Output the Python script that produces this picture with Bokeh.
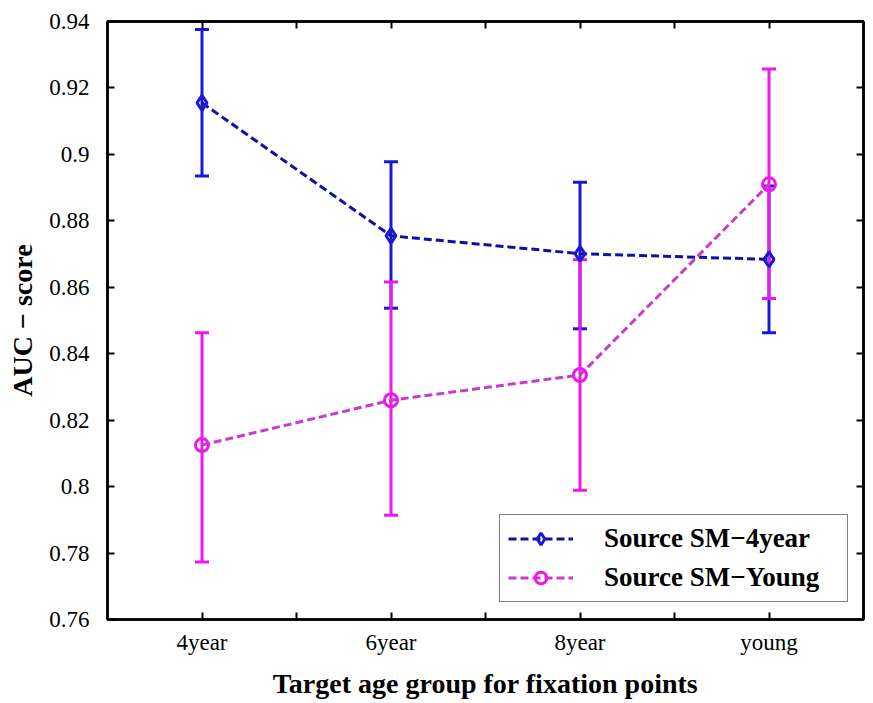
from bokeh.plotting import figure
from bokeh.models import (ColumnDataSource, Whisker, TeeHead, FixedTicker,
                          LinearAxis, Range1d)
from bokeh.embed import file_html
from bokeh.resources import INLINE

# ---------------- data ----------------
categories = ["4year", "6year", "8year", "young"]
x_pos = [1, 2, 3, 4]

sm4_mean = [0.9155, 0.8755, 0.8701, 0.8684]
sm4_lower = [0.8935, 0.8537, 0.8475, 0.8463]
sm4_upper = [0.9376, 0.8978, 0.8916, 0.8905]

young_mean = [0.8125, 0.8260, 0.8336, 0.8910]
young_lower = [0.7773, 0.7914, 0.7989, 0.8566]
young_upper = [0.8463, 0.8616, 0.8683, 0.9257]

y_ticks = [0.76, 0.78, 0.80, 0.82, 0.84, 0.86, 0.88, 0.90, 0.92, 0.94]
y_tick_labels = ["0.76", "0.78", "0.8", "0.82", "0.84", "0.86", "0.88", "0.9", "0.92", "0.94"]
x_ticks = [1, 1.5, 2, 2.5, 3, 3.5, 4]

series_names = ["Source SM\u22124year", "Source SM\u2212Young"]

# ---------------- style ----------------
BLUE_BAR = "#1a1ad6"
BLUE_LINE = "#12129e"
MAG_BAR = "#ee18ee"
MAG_LINE = "#cc3acc"
FONT = "Liberation Serif"

p = figure(width=873, height=703,
           x_range=Range1d(0.5, 4.5), y_range=Range1d(0.76, 0.94),
           output_backend="svg", toolbar_location=None,
           min_border_left=107, min_border_right=10,
           min_border_top=21, min_border_bottom=84)

p.add_layout(LinearAxis(), "above")
p.add_layout(LinearAxis(), "right")

p.xgrid.visible = False
p.ygrid.visible = False
p.background_fill_color = "white"
p.border_fill_color = "white"
p.outline_line_color = "black"
p.outline_line_width = 2.5

x_overrides = {}
for t in x_ticks:
    x_overrides[t] = ""
for xv, c in zip(x_pos, categories):
    x_overrides[xv] = c
y_overrides = {t: l for t, l in zip(y_ticks, y_tick_labels)}

for ax in p.xaxis:
    ax.ticker = FixedTicker(ticks=x_ticks)
for ax in p.yaxis:
    ax.ticker = FixedTicker(ticks=y_ticks)

for ax in list(p.xaxis) + list(p.yaxis):
    ax.axis_line_color = "black"
    ax.axis_line_width = 2.5
    ax.major_tick_in = 7
    ax.major_tick_out = 0
    ax.major_tick_line_width = 2
    ax.major_tick_line_color = "black"
    ax.minor_tick_line_color = None
    ax.major_label_text_font = FONT
    ax.major_label_text_font_size = "23px"
    ax.major_label_text_color = "black"

# top / right axes: ticks only, empty labels
p.above[0].major_label_overrides = {t: "" for t in x_ticks}
p.right[0].major_label_overrides = {t: "" for t in y_ticks}
p.above[0].major_label_standoff = 0
p.right[0].major_label_standoff = 0

xa = p.below[0]
xa.major_label_overrides = x_overrides
xa.axis_label = "Target age group for fixation points"
xa.major_label_standoff = 10
xa.axis_label_standoff = 10

ya = p.left[0]
ya.major_label_overrides = y_overrides
ya.axis_label = "AUC \u2212 score"
ya.major_label_standoff = 18
ya.axis_label_standoff = 8

for ax in (xa, ya):
    ax.axis_label_text_font = FONT
    ax.axis_label_text_font_style = "bold"
    ax.axis_label_text_font_size = "28px"
    ax.axis_label_text_color = "black"

# ---------------- error bars ----------------
src_a = ColumnDataSource(dict(x=x_pos, mean=sm4_mean, lower=sm4_lower, upper=sm4_upper))
src_b = ColumnDataSource(dict(x=x_pos, mean=young_mean, lower=young_lower, upper=young_upper))

for src, col in ((src_a, BLUE_BAR), (src_b, MAG_BAR)):
    w = Whisker(source=src, base="x", upper="upper", lower="lower",
                line_color=col, line_width=3, level="underlay",
                upper_head=TeeHead(size=14, line_color=col, line_width=3),
                lower_head=TeeHead(size=14, line_color=col, line_width=3))
    p.add_layout(w)

# ---------------- lines and markers ----------------
p.line("x", "mean", source=src_a, line_color=BLUE_LINE, line_width=3,
       line_dash="8 4", legend_label=series_names[0])
p.scatter("x", "mean", source=src_a, marker="diamond", size=15,
          line_color=BLUE_BAR, line_width=3, fill_color=None,
          legend_label=series_names[0])

p.line("x", "mean", source=src_b, line_color=MAG_LINE, line_width=3,
       line_dash="8 4", legend_label=series_names[1])
p.scatter("x", "mean", source=src_b, marker="circle", size=13,
          line_color=MAG_BAR, line_width=3, fill_color=None,
          legend_label=series_names[1])

# ---------------- legend ----------------
lg = p.legend[0]
lg.location = (392, 17)
lg.label_text_font = FONT
lg.label_text_font_style = "bold"
lg.label_text_font_size = "27px"
lg.label_text_color = "black"
lg.glyph_width = 65
lg.glyph_height = 29
lg.label_height = 29
lg.label_width = 235
lg.label_standoff = 31
lg.spacing = 8
lg.padding = 8
lg.margin = 0
lg.border_line_color = "black"
lg.border_line_width = 1.5
lg.background_fill_color = "white"
lg.background_fill_alpha = 1.0

open("out.html", "w").write(file_html(p, INLINE))
